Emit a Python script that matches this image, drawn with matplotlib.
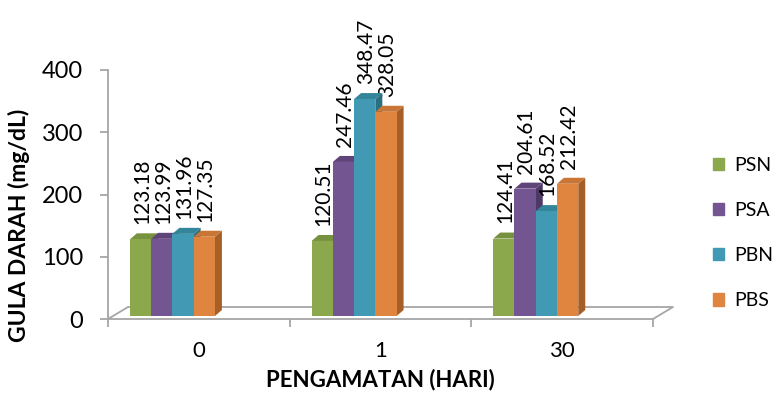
import matplotlib.pyplot as plt
from matplotlib.patches import Patch, Polygon
from matplotlib.transforms import ScaledTranslation

plt.rcParams['font.family'] = ['Lato', 'DejaVu Sans']

# --- data ---
days = ["0", "1", "30"]
series = ["PSN", "PSA", "PBN", "PBS"]
psn = [123.18, 120.51, 124.41]
psa = [123.99, 247.46, 204.61]
pbn = [131.96, 348.47, 168.52]
pbs = [127.35, 328.05, 212.42]
values = [psn, psa, pbn, pbs]

front = ["#8ba94c", "#735591", "#4299b3", "#df8540"]
top = ["#77923f", "#5f4479", "#338599", "#c87535"]
side = ["#657d35", "#4e3866", "#2b6f80", "#a65f27"]

W, H, DPI = 7.74, 3.95, 100
fig = plt.figure(figsize=(W, H), dpi=DPI)

# axes box in pixels (left, bottom-from-top, right, top-from-top)
px_l, px_b, px_r, px_t = 108, 319, 653, 70
ax = fig.add_axes([px_l / 774, (395 - px_b) / 395,
                   (px_r - px_l) / 774, (px_b - px_t) / 395])
ax.set_xlim(-0.5, 2.5)
ax.set_ylim(0, 400)

# pixels per data unit
sx = (px_r - px_l) / 3.0
sy = (px_b - px_t) / 400.0

grey = "#a6a6a6"
for s in ["top", "right"]:
    ax.spines[s].set_visible(False)
ax.spines["left"].set_color(grey)
ax.spines["bottom"].set_color(grey)
ax.spines["left"].set_linewidth(1.3)
ax.spines["bottom"].set_linewidth(1.3)

# floor of the pseudo 3d chart
fdx, fdy = 20 / sx, 12 / sy
floor_x = [-0.5, -0.5 + fdx, 2.5 + fdx, 2.5]
floor_y = [0, fdy, fdy, 0]
ax.plot(floor_x, floor_y, color=grey, lw=1.3, clip_on=False, zorder=1)

# bars with depth
bw = 0.117
first = -0.321
bdx, bdy = 7 / sx, 6 / sy
lift = ScaledTranslation(0, 3 / DPI, fig.dpi_scale_trans)
for i, vals in enumerate(values):
    for j, v in enumerate(vals):
        xc = j + first + i * bw
        x0, x1 = xc - bw / 2, xc + bw / 2
        tr = ax.transData + lift
        ax.add_patch(Polygon([(x1, 0), (x1 + bdx, bdy), (x1 + bdx, v + bdy), (x1, v)],
                             closed=True, fc=side[i], ec="none", transform=tr, zorder=2 + i))
        ax.add_patch(Polygon([(x0, v), (x0 + bdx, v + bdy), (x1 + bdx, v + bdy), (x1, v)],
                             closed=True, fc=top[i], ec="none", transform=tr, zorder=2 + i))
        ax.bar(xc, v, width=bw, color=front[i], transform=tr, zorder=2 + i)
        ax.annotate(f"{v:.2f}", (xc, v), xytext=(1, 13), textcoords="offset points",
                    rotation=90, ha="center", va="bottom", fontsize=15, color="black")

# ticks
ax.set_yticks([0, 100, 200, 300, 400])
ax.tick_params(axis="y", length=6, width=1.3, color=grey, pad=12, labelsize=17)
ax.set_xticks([0, 1, 2])
ax.set_xticklabels(days)
ax.set_xticks([-0.5, 0.5, 1.5, 2.5], minor=True)
ax.tick_params(axis="x", which="major", length=0, pad=16, labelsize=16)
ax.tick_params(axis="x", which="minor", length=6, width=1.3, color=grey)

ax.set_xlabel("PENGAMATAN (HARI)", fontsize=16, fontweight="bold")
ax.xaxis.label.set_va("center")
ax.xaxis.set_label_coords(0.5, -0.245)
ax.set_ylabel("GULA DARAH (mg/dL)", fontsize=16.5, fontweight="bold")
ax.yaxis.label.set_va("center")
ax.yaxis.set_label_coords(-0.163, 0.375)

handles = [Patch(color=c, label=s) for c, s in zip(front, series)]
fig.legend(handles=handles, loc="center left", bbox_to_anchor=(703 / 774, (395 - 233) / 395),
           frameon=False, fontsize=14, handlelength=0.6, handleheight=0.6,
           handletextpad=0.5, labelspacing=1.45, borderpad=0)

fig.savefig("out.png", dpi=DPI)
